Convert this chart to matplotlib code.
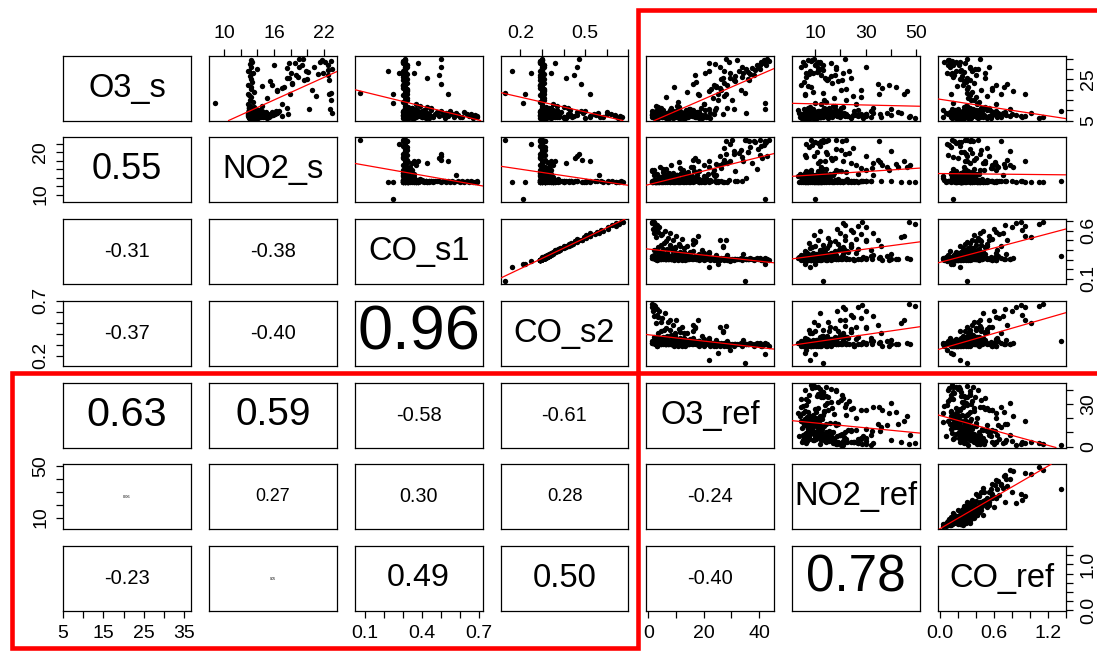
import numpy as np
import matplotlib
matplotlib.use('Agg')
import matplotlib.pyplot as plt
from matplotlib.patches import Rectangle

plt.rcParams['font.family'] = ['Liberation Sans', 'DejaVu Sans']

names = ['O3_s', 'NO2_s', 'CO_s1', 'CO_s2', 'O3_ref', 'NO2_ref', 'CO_ref']

# observations; each line holds one group of similar readings, same order in every list
O3_s = [8.1, 9.4, 10.2, 11.3, 12.8, 14.2, 15.1, 16.4, 17.2, 18.9, 20.1, 21.4, 22.2, 23.5, 25.3, 26.8, 28.1, 29.3, 31.0, 32.4, 33.6, 34.6,
        8.5, 10.5, 15.0, 27.0, 30.0, 18.0, 32.0, 34.0, 24.5, 17.0, 20.0, 25.0, 35.0, 33.0, 30.5, 32.0, 20.0, 24.0, 22.0, 30.0, 11.0, 13.0, 10.5, 16.0, 28.0, 28.0, 33.5, 29.0,
        6.5, 7.0, 7.8, 6.3, 8.4, 7.2, 8.0, 9.2, 6.8, 6.6, 7.6, 8.8, 6.9, 8.2, 9.6, 7.4, 8.6, 6.4, 7.9, 9.4, 7.1, 9.0, 8.1, 6.7, 7.3,
        10.2, 6.5, 8.3, 11.5, 7.0, 6.2, 9.9, 7.7, 6.8, 12.0, 8.5, 7.2, 10.8, 6.6, 9.1, 7.5, 6.3, 11.0, 8.0, 6.9, 9.5, 7.8, 6.4, 10.4, 8.7,
        6.3, 6.5, 7.0, 7.3, 7.8, 8.0, 8.4, 8.8, 9.1, 9.5, 6.8, 7.1, 7.6, 8.2, 8.6, 9.0, 9.8, 6.4, 7.4, 8.1, 8.9, 6.6, 7.9,
        9.3, 10.0, 6.3, 7.2, 8.5, 9.6, 7.7, 6.9, 8.3, 9.2, 7.5, 6.7, 8.7, 10.3, 7.0, 8.0, 9.4, 6.2, 7.6, 8.9, 10.8, 12.0,
        18.2, 29.0, 13.3, 17.7, 9.5, 35.0, 31.0, 27.0, 22.6, 32.8, 25.5, 18.0,
        6.4, 7.3, 8.1, 6.9, 9.0, 7.6, 6.2, 8.5, 7.0, 9.6, 6.7, 8.2, 7.4, 6.5, 10.1, 7.9, 6.3, 8.8, 7.1, 9.3, 6.6, 8.0, 7.5, 11.2, 6.8, 8.6, 7.2, 9.8, 6.9, 7.7,
        21.5, 24.8, 27.6, 30.9, 33.2, 19.4, 26.3, 29.7, 23.1, 34.2, 22.4, 28.8, 31.9, 25.7, 20.6,
        7.2, 8.4, 6.6, 9.1, 7.8, 10.3, 6.9, 8.0, 9.7, 7.4, 6.4, 8.8, 7.0, 10.9, 8.2, 6.8, 9.4, 7.6, 8.6, 6.5,
        7.9, 9.0, 6.7, 8.3, 11.4, 7.1, 8.9, 6.3, 9.8, 7.5, 8.1, 6.9, 10.1, 7.3, 8.5, 6.6, 9.3, 7.7, 8.7, 6.2]
NO2_s = [13.1, 13.0, 13.4, 13.2, 12.9, 13.5, 13.1, 13.3, 13.0, 13.6, 13.2, 13.3, 12.9, 13.4, 13.2, 13.1, 13.5, 13.0, 13.3, 13.1, 13.4, 13.2,
         22.9, 22.7, 22.8, 22.5, 22.9, 22.6, 22.4, 22.8, 22.6, 21.0, 20.5, 20.0, 19.0, 18.5, 17.5, 16.0, 16.3, 15.5, 14.6, 14.0, 17.5, 16.9, 20.2, 15.2, 18.0, 21.8, 21.5, 19.8,
         13.0, 13.1, 12.9, 13.0, 13.2, 13.0, 13.1, 13.0, 13.3, 13.0, 13.1, 14.7, 13.0, 13.2, 13.0, 13.1, 13.0, 13.2, 13.1, 13.0, 13.2, 13.1, 13.3, 13.0, 13.3,
         13.2, 13.1, 12.9, 13.0, 13.2, 13.1, 13.0, 13.2, 13.3, 13.1, 13.0, 12.9, 13.2, 13.0, 13.0, 13.3, 14.1, 13.0, 13.1, 13.2, 13.0, 13.0, 13.2, 13.1, 12.9,
         13.5, 14.0, 14.3, 14.8, 15.2, 15.6, 16.0, 16.4, 13.8, 14.5, 15.0, 15.5, 13.3, 14.1, 14.9, 15.8, 16.2, 13.6, 14.4, 15.3, 13.9, 14.7, 15.9,
         16.5, 14.2, 13.4, 15.1, 14.6, 13.7, 15.7, 14.0, 16.1, 13.2, 14.8, 15.4, 13.9, 14.3, 17.0, 17.7, 16.6, 13.5, 14.2, 15.0, 13.8, 14.6,
         22.8, 12.9, 8.9, 12.9, 13.3, 19.5, 19.0, 18.6, 18.2, 17.8, 17.5, 17.9,
         13.2, 13.4, 13.0, 13.6, 13.3, 13.0, 13.1, 13.1, 13.8, 13.4, 13.0, 13.2, 13.2, 13.5, 13.0, 13.3, 13.3, 13.0, 13.7, 13.1, 13.5, 13.0, 13.4, 13.2, 13.1, 13.0, 13.6, 13.3, 13.1, 13.2,
         17.2, 19.6, 21.3, 20.8, 22.1, 16.4, 18.9, 22.4, 18.1, 21.7, 15.8, 20.1, 19.3, 17.8, 16.9,
         13.4, 14.1, 13.0, 14.6, 13.8, 13.2, 15.1, 13.5, 14.3, 13.1, 13.9, 13.3, 14.8, 13.0, 13.6, 14.4, 13.2, 15.5, 13.7, 13.1,
         14.0, 13.4, 14.9, 13.0, 13.6, 14.2, 13.3, 15.2, 13.8, 13.1, 14.5, 13.5, 13.0, 14.7, 13.2, 13.9, 14.1, 13.4, 13.0, 13.6]
CO_s1 = [0.31, 0.30, 0.32, 0.31, 0.31, 0.30, 0.32, 0.31, 0.30, 0.31, 0.32, 0.31, 0.30, 0.31, 0.32, 0.31, 0.31, 0.30, 0.32, 0.31, 0.30, 0.31,
         0.31, 0.32, 0.31, 0.30, 0.31, 0.32, 0.31, 0.30, 0.31, 0.31, 0.32, 0.31, 0.31, 0.30, 0.31, 0.32, 0.31, 0.31, 0.30, 0.31, 0.35, 0.37, 0.31, 0.32, 0.36, 0.28, 0.30, 0.31,
         0.69, 0.69, 0.68, 0.67, 0.66, 0.65, 0.64, 0.62, 0.61, 0.60, 0.59, 0.58, 0.57, 0.56, 0.55, 0.54, 0.53, 0.52, 0.51, 0.50, 0.49, 0.48, 0.47, 0.46, 0.46,
         0.45, 0.44, 0.44, 0.43, 0.42, 0.42, 0.41, 0.40, 0.40, 0.39, 0.38, 0.38, 0.37, 0.37, 0.36, 0.36, 0.35, 0.35, 0.34, 0.34, 0.34, 0.33, 0.33, 0.33, 0.33,
         0.31, 0.32, 0.31, 0.33, 0.30, 0.32, 0.31, 0.34, 0.31, 0.32, 0.33, 0.31, 0.30, 0.32, 0.31, 0.35, 0.31, 0.32, 0.30, 0.31, 0.33, 0.31, 0.32,
         0.31, 0.36, 0.30, 0.31, 0.32, 0.31, 0.33, 0.31, 0.32, 0.30, 0.31, 0.34, 0.31, 0.32, 0.31, 0.33, 0.31, 0.32, 0.31, 0.30, 0.32, 0.31,
         0.075, 0.22, 0.25, 0.25, 0.34, 0.50, 0.50, 0.49, 0.50, 0.38, 0.43, 0.54,
         0.33, 0.35, 0.37, 0.34, 0.39, 0.33, 0.36, 0.41, 0.34, 0.38, 0.43, 0.35, 0.33, 0.40, 0.36, 0.34, 0.44, 0.37, 0.33, 0.42, 0.35, 0.38, 0.34, 0.45, 0.36, 0.33, 0.39, 0.35, 0.41, 0.34,
         0.31, 0.30, 0.32, 0.31, 0.31, 0.32, 0.30, 0.31, 0.32, 0.31, 0.30, 0.31, 0.32, 0.31, 0.30,
         0.31, 0.33, 0.32, 0.31, 0.35, 0.31, 0.32, 0.38, 0.31, 0.34, 0.31, 0.32, 0.36, 0.31, 0.33, 0.31, 0.40, 0.32, 0.31, 0.34,
         0.31, 0.37, 0.32, 0.31, 0.33, 0.31, 0.35, 0.32, 0.31, 0.39, 0.31, 0.33, 0.32, 0.31, 0.36, 0.31, 0.34, 0.32, 0.31, 0.33]
CO_s2 = [0.30, 0.29, 0.31, 0.30, 0.30, 0.29, 0.31, 0.30, 0.29, 0.30, 0.31, 0.30, 0.29, 0.30, 0.31, 0.30, 0.30, 0.29, 0.31, 0.30, 0.29, 0.30,
         0.30, 0.31, 0.30, 0.29, 0.30, 0.31, 0.30, 0.29, 0.30, 0.30, 0.31, 0.30, 0.30, 0.29, 0.30, 0.31, 0.30, 0.30, 0.29, 0.30, 0.33, 0.35, 0.30, 0.31, 0.34, 0.25, 0.29, 0.30,
         0.67, 0.66, 0.64, 0.65, 0.62, 0.64, 0.60, 0.60, 0.57, 0.58, 0.55, 0.56, 0.52, 0.54, 0.50, 0.52, 0.49, 0.50, 0.46, 0.48, 0.45, 0.46, 0.43, 0.44, 0.42,
         0.43, 0.40, 0.42, 0.40, 0.38, 0.40, 0.37, 0.38, 0.36, 0.37, 0.35, 0.36, 0.34, 0.35, 0.33, 0.34, 0.32, 0.34, 0.31, 0.33, 0.32, 0.31, 0.32, 0.30, 0.31,
         0.30, 0.31, 0.30, 0.32, 0.29, 0.31, 0.30, 0.33, 0.30, 0.31, 0.32, 0.30, 0.29, 0.31, 0.30, 0.34, 0.30, 0.31, 0.29, 0.30, 0.32, 0.30, 0.31,
         0.30, 0.35, 0.29, 0.30, 0.31, 0.30, 0.32, 0.30, 0.31, 0.29, 0.30, 0.33, 0.30, 0.31, 0.30, 0.32, 0.30, 0.31, 0.30, 0.29, 0.31, 0.30,
         0.13, 0.16, 0.21, 0.22, 0.33, 0.47, 0.46, 0.45, 0.48, 0.36, 0.41, 0.52,
         0.32, 0.33, 0.35, 0.32, 0.36, 0.31, 0.34, 0.38, 0.33, 0.36, 0.40, 0.33, 0.32, 0.37, 0.34, 0.32, 0.41, 0.35, 0.31, 0.39, 0.33, 0.36, 0.32, 0.42, 0.34, 0.31, 0.37, 0.33, 0.38, 0.32,
         0.30, 0.29, 0.31, 0.30, 0.30, 0.31, 0.29, 0.30, 0.31, 0.30, 0.29, 0.30, 0.31, 0.30, 0.29,
         0.30, 0.32, 0.31, 0.30, 0.33, 0.30, 0.31, 0.36, 0.30, 0.32, 0.30, 0.31, 0.34, 0.30, 0.32, 0.30, 0.37, 0.31, 0.30, 0.33,
         0.30, 0.35, 0.31, 0.30, 0.32, 0.30, 0.33, 0.31, 0.30, 0.36, 0.30, 0.32, 0.31, 0.30, 0.34, 0.30, 0.32, 0.31, 0.30, 0.31]
O3_ref = [12.3, 3.2, 15.4, 8.2, 20.1, 10.6, 25.2, 6.3, 18.4, 14.1, 22.5, 9.3, 28.4, 17.2, 26.1, 31.4, 20.6, 27.3, 34.0, 24.2, 29.1, 32.2,
          35.2, 42.1, 30.4, 38.2, 40.3, 28.1, 42.6, 43.7, 36.5, 27.4, 33.3, 36.1, 43.0, 41.2, 37.3, 39.1, 26.2, 31.3, 24.4, 35.4, 28.3, 20.2, 31.1, 23.2, 34.3, 29.5, 40.8, 32.6,
          1.5, 2.0, 1.2, 2.4, 3.0, 2.5, 4.0, 1.8, 3.3, 6.0, 3.5, 2.2, 8.0, 5.0, 4.4, 10.0, 2.9, 7.2, 12.0, 9.0, 6.3, 17.0, 5.5, 11.0, 16.0,
          7.8, 14.0, 27.0, 3.6, 9.6, 13.0, 5.2, 19.5, 8.4, 2.6, 15.2, 11.4, 22.0, 6.6, 18.3, 4.8, 12.6, 24.5, 9.2, 16.8, 3.9, 20.4, 7.5, 14.6, 10.8,
          2.3, 5.1, 8.4, 3.3, 12.2, 1.2, 6.2, 15.3, 4.4, 10.1, 7.3, 18.2, 3.1, 9.4, 14.3, 2.1, 11.3, 6.4, 20.2, 5.3, 13.1, 8.1, 1.5,
          16.2, 4.2, 22.3, 7.1, 10.4, 3.4, 12.4, 17.1, 5.4, 9.2, 2.4, 14.2, 6.1, 24.1, 8.3, 11.1, 4.3, 19.3, 7.4, 13.4, 15.1, 10.2,
          35.0, 22.0, 42.0, 25.0, 1.2, 28.0, 26.0, 17.0, 16.0, 22.0, 27.0, 18.0,
          3.4, 8.6, 12.4, 5.7, 16.3, 2.7, 10.9, 6.8, 14.5, 4.1, 9.7, 18.2, 7.3, 2.1, 13.6, 5.9, 11.5, 3.8, 15.9, 8.1, 6.2, 12.9, 17.4, 4.6, 10.3, 7.7, 3.0, 14.0, 9.1, 5.1,
          24.6, 30.8, 36.7, 39.5, 42.3, 21.9, 33.8, 38.4, 27.2, 41.6, 23.7, 35.9, 40.2, 29.4, 25.8,
          9.5, 14.2, 4.8, 17.6, 6.9, 20.3, 11.7, 3.6, 15.8, 8.4, 13.1, 22.4, 5.5, 18.9, 10.2, 7.1, 2.8, 16.4, 12.6, 19.7,
          6.2, 9.9, 21.5, 14.7, 11.2, 4.4, 17.9, 8.8, 13.8, 3.2, 23.6, 10.7, 16.1, 5.9, 12.1, 20.8, 7.6, 15.2, 9.1, 18.4]
NO2_ref = [30.2, 25.3, 18.1, 20.1, 12.4, 14.4, 13.3, 28.2, 6.1, 9.3, 22.3, 8.4, 4.2, 5.4, 15.2, 16.3, 9.1, 11.1, 4.4, 10.2, 5.2, 7.2,
           15.1, 14.3, 22.1, 12.1, 18.3, 35.2, 10.1, 8.2, 20.6, 25.1, 20.3, 14.2, 9.4, 16.1, 11.3, 13.2, 28.1, 19.2, 7.3, 12.3, 33.1, 26.2, 40.1, 17.3, 21.2, 6.2, 11.8, 23.4,
           47.0, 28.5, 21.0, 49.6, 22.0, 27.0, 30.0, 18.5, 24.0, 12.0, 25.0, 33.0, 20.0, 28.0, 9.5, 22.0, 44.0, 15.0, 26.0, 11.0, 30.0, 16.0, 7.5, 24.0, 19.0,
           13.0, 36.0, 10.0, 21.0, 14.5, 8.0, 27.0, 12.5, 32.0, 18.0, 6.5, 23.0, 9.0, 16.5, 11.5, 40.0, 7.0, 13.5, 20.5, 5.5, 17.5, 10.5, 29.0, 8.5, 15.5,
           6.3, 10.4, 5.1, 14.3, 8.1, 20.2, 12.1, 38.5, 9.2, 16.4, 7.4, 11.2, 25.2, 6.2, 13.4, 18.2, 32.5, 10.1, 8.2, 22.1, 7.1, 12.3, 30.1,
           43.0, 15.3, 9.1, 6.4, 11.4, 19.1, 8.3, 5.2, 14.1, 10.2, 27.1, 7.2, 13.1, 3.1, 47.5, 35.5, 12.4, 6.1, 11.1, 8.4, 5.4, 17.1,
           13.0, 8.0, 10.0, 6.0, 32.0, 22.0, 30.0, 18.0, 35.0, 12.0, 24.0, 45.0,
           4.8, 9.6, 12.8, 7.7, 5.9, 16.9, 10.8, 21.4, 6.9, 13.7, 8.9, 4.5, 18.6, 11.9, 7.3, 14.8, 24.1, 6.6, 9.9, 19.7, 5.7, 12.1, 8.2, 15.6, 10.5, 3.6, 22.8, 7.9, 13.2, 17.4,
           42.1, 14.6, 7.4, 18.3, 11.2, 46.2, 6.3, 12.9, 16.5, 8.7, 39.4, 10.6, 5.8, 13.8, 36.3,
           7.6, 11.3, 5.2, 9.8, 14.6, 6.7, 12.4, 17.9, 8.3, 10.5, 4.7, 13.2, 15.8, 7.1, 9.4, 11.8, 19.6, 6.3, 8.9, 5.8,
           12.7, 16.3, 4.1, 10.9, 7.9, 13.9, 9.2, 6.0, 11.5, 21.3, 5.3, 8.6, 14.1, 10.0, 7.3, 6.8, 15.1, 12.0, 9.6, 4.9]
CO_ref = [0.47, 0.62, 0.52, 0.55, 0.41, 0.44, 0.38, 0.40, 0.33, 0.36, 0.30, 0.31, 0.26, 0.29, 0.22, 0.25, 0.14, 0.18, 0.11, 0.12, 0.05, 0.09,
          0.28, 0.37, 0.35, 0.16, 0.42, 0.68, 0.21, 0.13, 0.33, 0.52, 0.46, 0.24, 0.30, 0.20, 0.34, 0.15, 0.58, 0.27, 0.19, 0.39, 0.48, 0.63, 0.78, 0.31, 0.50, 0.08, 0.22, 0.36,
          1.15, 0.90, 0.85, 1.10, 0.72, 0.95, 0.80, 0.60, 0.92, 0.48, 0.62, 0.70, 0.45, 0.66, 0.38, 0.55, 1.02, 0.42, 0.58, 0.36, 0.46, 0.30, 0.34, 0.52, 0.28,
          0.40, 0.68, 0.22, 0.50, 0.26, 0.31, 0.44, 0.35, 0.64, 0.29, 0.18, 0.48, 0.20, 0.41, 0.24, 0.74, 0.27, 0.33, 0.38, 0.15, 0.45, 0.19, 0.57, 0.30, 0.25,
          0.27, 0.15, 0.24, 0.44, 0.12, 0.31, 0.38, 0.65, 0.33, 0.26, 0.30, 0.17, 0.58, 0.14, 0.40, 0.45, 0.57, 0.35, 0.20, 0.36, 0.28, 0.22, 0.49,
          0.72, 0.37, 0.18, 0.32, 0.25, 0.47, 0.29, 0.04, 0.28, 0.31, 0.42, 0.16, 0.34, 0.04, 0.78, 0.61, 0.27, 0.19, 0.32, 0.23, 0.13, 0.30,
          0.30, 0.22, 0.15, 0.12, 1.35, 0.45, 0.55, 0.40, 0.75, 0.28, 0.50, 0.95,
          0.22, 0.18, 0.36, 0.27, 0.11, 0.43, 0.24, 0.35, 0.29, 0.26, 0.34, 0.09, 0.32, 0.41, 0.17, 0.29, 0.52, 0.25, 0.31, 0.37, 0.16, 0.23, 0.28, 0.46, 0.21, 0.07, 0.40, 0.19, 0.33, 0.27,
          0.71, 0.29, 0.12, 0.33, 0.18, 0.82, 0.15, 0.24, 0.38, 0.10, 0.63, 0.27, 0.09, 0.30, 0.58,
          0.26, 0.21, 0.24, 0.31, 0.27, 0.15, 0.34, 0.42, 0.20, 0.29, 0.13, 0.25, 0.39, 0.28, 0.22, 0.33, 0.44, 0.18, 0.30, 0.16,
          0.26, 0.31, 0.12, 0.24, 0.27, 0.36, 0.19, 0.23, 0.32, 0.38, 0.14, 0.25, 0.29, 0.21, 0.26, 0.17, 0.35, 0.28, 0.23, 0.20]

# correlations printed in the lower panels (row i, columns 0..i-1)
cor_lower = [[],
             [0.55],
             [-0.31, -0.38],
             [-0.37, -0.40, 0.96],
             [0.63, 0.59, -0.58, -0.61],
             [0.06, 0.27, 0.30, 0.28, -0.24],
             [-0.23, 0.05, 0.49, 0.50, -0.40, 0.78]]

# axis ranges, tick positions, labelled ticks (horizontal / vertical axes)
lims = [(5.0, 36.6), (8.2, 23.5), (0.047, 0.72), (0.108, 0.695),
        (-0.7, 45.5), (0.9, 51.6), (-0.02, 1.405)]
ticks = [[5, 10, 15, 20, 25, 30, 35],
         [10, 12, 14, 16, 18, 20, 22],
         [0.1, 0.2, 0.3, 0.4, 0.5, 0.6, 0.7],
         [0.2, 0.3, 0.4, 0.5, 0.6, 0.7],
         [0, 10, 20, 30, 40],
         [10, 20, 30, 40, 50],
         [0.0, 0.2, 0.4, 0.6, 0.8, 1.0, 1.2, 1.4]]
h_labels = [[5, 15, 25, 35], [10, 16, 22], [0.1, 0.4, 0.7], [0.2, 0.5],
            [0, 20, 40], [10, 30, 50], [0.0, 0.6, 1.2]]
v_labels = [[5, 25], [10, 20], [0.1, 0.6], [0.2, 0.7],
            [0, 30], [10, 50], [0.0, 1.0]]
decimals = [0, 0, 1, 1, 0, 0, 1]

data = [np.array(v) for v in (O3_s, NO2_s, CO_s1, CO_s2, O3_ref, NO2_ref, CO_ref)]
assert len(set(len(v) for v in data)) == 1, [len(v) for v in data]

W, H, DPI = 1097, 651, 100
fig = plt.figure(figsize=(W / DPI, H / DPI), dpi=DPI)

left0, col_step, pw = 63, 145.85, 127.9
top0, row_step, ph = 55.5, 81.75, 65.0
n = len(names)


def make_labels(k, shown):
    out = []
    for t in ticks[k]:
        if any(np.isclose(t, s) for s in shown):
            out.append('{:.{}f}'.format(t, decimals[k]))
        else:
            out.append('')
    return out


for i in range(n):
    for j in range(n):
        x0 = left0 + j * col_step
        y0 = top0 + i * row_step
        ax = fig.add_axes([x0 / W, 1 - (y0 + ph) / H, pw / W, ph / H])
        for s in ax.spines.values():
            s.set_linewidth(0.9)
        ax.set_xlim(lims[j])
        ax.set_ylim(lims[i])
        ax.set_xticks([])
        ax.set_yticks([])

        if i == j:
            ax.text(0.5, 0.5, names[i], transform=ax.transAxes, ha='center',
                    va='center', fontsize=23.5)
        elif i < j:
            x, y = data[j], data[i]
            ax.scatter(x, y, s=15, c='black', linewidths=0, zorder=2)
            m, b = np.polyfit(x, y, 1)
            ax.axline((0, b), slope=m, color='red', lw=0.9, zorder=3)
        else:
            r = cor_lower[i][j]
            if r > 0:
                fs = r * pw / 1.946 * 72 / DPI
            else:
                fs = 14.5
            ax.text(0.5, 0.5, '{:.2f}'.format(r), transform=ax.transAxes,
                    ha='center', va='center', fontsize=fs)

        tp = dict(length=5, width=0.9, labelsize=14, pad=5, direction='out')
        if i == 0 and j % 2 == 1:
            ax.set_xticks(ticks[j], make_labels(j, h_labels[j]))
            ax.tick_params(axis='x', top=True, bottom=False, labeltop=True,
                           labelbottom=False, **tp)
        if i == n - 1 and j % 2 == 0:
            ax.set_xticks(ticks[j], make_labels(j, h_labels[j]))
            ax.tick_params(axis='x', **tp)
        if j == 0 and i % 2 == 1:
            ax.set_yticks(ticks[i], make_labels(i, v_labels[i]))
            ax.tick_params(axis='y', labelrotation=90, **tp)
            for lab in ax.get_yticklabels():
                lab.set_va('center')
        if j == n - 1 and i % 2 == 0:
            ax.set_yticks(ticks[i], make_labels(i, v_labels[i]))
            ax.tick_params(axis='y', left=False, right=True, labelleft=False,
                           labelright=True, labelrotation=90, **tp)
            for lab in ax.get_yticklabels():
                lab.set_va('center')

# red frames around the sensor/reference blocks
frame_lw = 3.3
fig.add_artist(Rectangle((638 / W, 1 - 373 / H), (1120 - 638) / W, (373 - 10) / H,
                         transform=fig.transFigure, fill=False, ec='red', lw=frame_lw))
fig.add_artist(Rectangle((12 / W, 1 - 648 / H), (638 - 12) / W, (648 - 373) / H,
                         transform=fig.transFigure, fill=False, ec='red', lw=frame_lw))

fig.savefig('out.png', dpi=DPI)
